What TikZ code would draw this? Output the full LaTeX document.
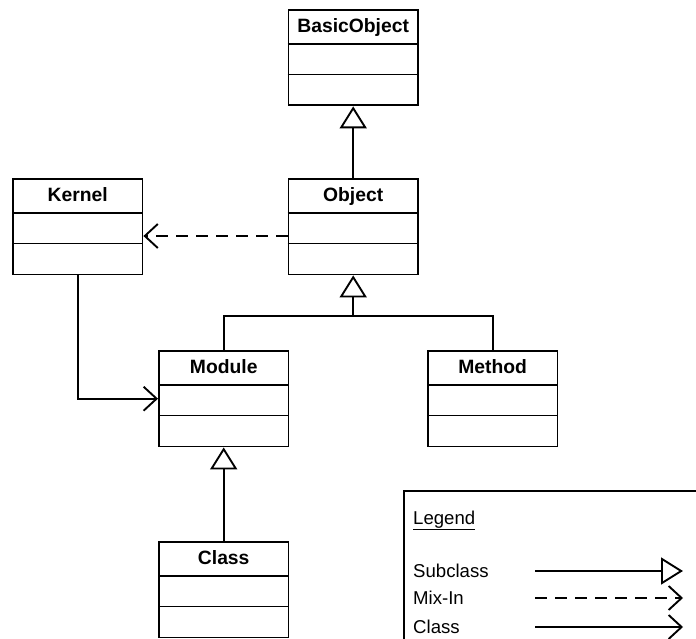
\documentclass[tikz,border=0pt]{standalone}
\usepackage{fontspec}
\setmainfont{Liberation Sans}
\usetikzlibrary{arrows.meta}
\tikzset{
  ln/.style={line width=1.9pt},
  classbox/.style={draw, ln, minimum width=129.5pt, minimum height=95.5pt, inner sep=0pt, anchor=north west},
  classname/.style={font=\fontsize{19.3}{21}\selectfont\bfseries, inner sep=0pt, anchor=base},
  legtext/.style={font=\fontsize{18.6}{20}\selectfont, inner sep=0pt, anchor=base west},
  inherit/.style={ln, -{Triangle[open, length=22pt, width=27pt]}},
  assoc/.style={ln, -{Straight Barb[length=13pt, width=24pt]}},
  mixin/.style={ln, dash pattern=on 12pt off 8pt, -{Straight Barb[length=13pt, width=24pt]}},
}
\newcommand\umlclass[4]{%
  \node[classbox] (#1) at (#2,#3) {};
  \node[classname] (#1-t) at ([yshift=-23.5pt]#1.north) {#4};
  \draw[ln] ([yshift=-35pt]#1.north west) -- ([yshift=-35pt]#1.north east);
  \draw[ln] ([yshift=-65.5pt]#1.north west) -- ([yshift=-65.5pt]#1.north east);
}
\begin{document}
\begin{tikzpicture}[x=1pt, y=-1pt]
\useasboundingbox (0,0) rectangle (696,639);
\clip (0,0) rectangle (696,639);
\umlclass{bo}{287.5}{9}{BasicObject}
\umlclass{obj}{287.5}{178}{Object}
\umlclass{ker}{12}{178}{Kernel}
\umlclass{mod}{158}{350}{Module}
\umlclass{meth}{427}{350}{Method}
\umlclass{cls}{158}{541}{Class}
% connectors
\draw[inherit] (obj.north) -- (bo.south);
\coordinate (j1) at (obj.south |- 0,316);
\draw[ln] (mod.north) |- (j1) -| (meth.north);
\draw[inherit] (j1) -- (obj.south);
\draw[inherit] (cls.north) -- (mod.south);
\coordinate (d1) at (obj.west |- 0,236);
\coordinate (d2) at (ker.east |- 0,236);
\draw[mixin] (d1) -- (d2);
\draw[assoc] (ker.south) |- (mod.west);
% legend
\node[draw, ln, minimum width=320pt, minimum height=170pt, anchor=north west, inner sep=0pt] (leg) at (403,490) {};
\node[legtext] (legt) at (413,524) {\underline{Legend}};
\node[legtext] (l1) at (413,577) {Subclass};
\node[legtext] (l2) at (413,604) {Mix-In};
\node[legtext] (l3) at (413,633) {Class};
\coordinate (a1) at (535,571);
\coordinate (b1) at (683,571);
\coordinate (a2) at (535,598);
\coordinate (b2) at (683,598);
\coordinate (a3) at (535,627);
\coordinate (b3) at (683,627);
\draw[inherit] (a1) -- (b1);
\draw[mixin] (a2) -- (b2);
\draw[assoc] (a3) -- (b3);
\end{tikzpicture}
\end{document}
